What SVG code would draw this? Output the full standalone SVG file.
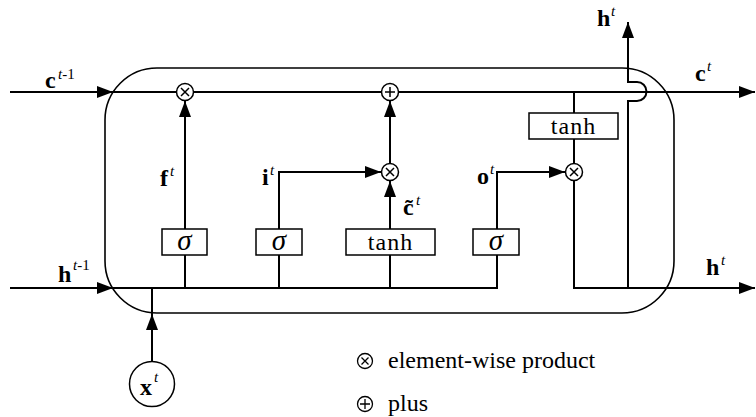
<svg xmlns="http://www.w3.org/2000/svg" width="756" height="417" viewBox="0 0 756 417">
<style>
.ln{fill:none;stroke:#000;stroke-width:2}
.box{fill:#fff;stroke:#000;stroke-width:1.5}
.cell{fill:none;stroke:#000;stroke-width:1.6}
.op{fill:#fff;stroke:#000;stroke-width:1.5}
.opm{fill:none;stroke:#000;stroke-width:1.5}
.lgs{fill:none;stroke:#000;stroke-width:1.3}
.v{font-family:"Liberation Serif","Times New Roman",serif;font-weight:bold;font-size:24px;fill:#000}
.s{font-family:"Liberation Serif","Times New Roman",serif;font-size:15px;fill:#000}
.it{font-style:italic}
.fn{font-family:"Liberation Serif","Times New Roman",serif;font-size:24px;fill:#000;text-anchor:middle}
.sg{font-family:"Liberation Serif","Times New Roman",serif;font-size:29px;font-style:italic;fill:#000;text-anchor:middle}
.lg{font-family:"Liberation Serif","Times New Roman",serif;font-size:24px;fill:#000}
</style>
<defs>
<marker id="arr" markerUnits="userSpaceOnUse" markerWidth="17" markerHeight="12" refX="16" refY="6" orient="auto">
<path d="M0,0 L16,6 L0,12 z" fill="#000"/>
</marker>
</defs>
<rect width="756" height="417" fill="#fff"/>

<g id="cell">
<rect class="cell" x="105" y="68" width="569" height="245" rx="52" ry="52"/>
</g>

<g id="connectors">
<path class="ln" d="M10,92 H113" marker-end="url(#arr)"/>
<path class="ln" d="M113,92 H755" marker-end="url(#arr)"/>
<path class="ln" d="M10,288 H113" marker-end="url(#arr)"/>
<path class="ln" d="M113,288 H497 V255"/>
<path class="ln" d="M185,288 V255"/>
<path class="ln" d="M279,288 V255"/>
<path class="ln" d="M390,288 V255"/>
<path class="ln" d="M152,361.5 V314" marker-end="url(#arr)"/>
<path class="ln" d="M152,314 V288"/>
<path class="ln" d="M185,229 V101" marker-end="url(#arr)"/>
<path class="ln" d="M279,229 V172 H381" marker-end="url(#arr)"/>
<path class="ln" d="M390,229 V181" marker-end="url(#arr)"/>
<path class="ln" d="M390,163 V101" marker-end="url(#arr)"/>
<path class="ln" d="M497,229 V172 H565" marker-end="url(#arr)"/>
<path class="ln" d="M574,92 V113"/>
<path class="ln" d="M574,139 V163.5"/>
<path class="ln" d="M574,180.5 V288 H755" marker-end="url(#arr)"/>
<path class="ln" d="M628,288 V101 H637 A9.5,9.5 0 0 0 637,82 H628 V22" marker-end="url(#arr)"/>
</g>

<g id="sigma_f"><rect class="box" x="162" y="229" width="45" height="26"/><text class="sg" x="184.5" y="250">σ</text></g>
<g id="sigma_i"><rect class="box" x="256" y="229" width="46" height="26"/><text class="sg" x="279" y="250">σ</text></g>
<g id="tanh_c"><rect class="box" x="346" y="229" width="89" height="26"/><text class="fn" x="390.5" y="250" letter-spacing="1">tanh</text></g>
<g id="sigma_o"><rect class="box" x="473" y="229" width="46" height="26"/><text class="sg" x="496" y="250">σ</text></g>
<g id="tanh_h"><rect class="box" x="529" y="113" width="89" height="26"/><text class="fn" x="573.5" y="134" letter-spacing="1">tanh</text></g>

<g id="mult_f"><circle class="op" cx="185" cy="92" r="8.5"/><path class="opm" d="M181,88 L189,96 M189,88 L181,96"/></g>
<g id="plus_c"><circle class="op" cx="390" cy="92" r="8.5"/><path class="opm" d="M385,92 H395 M390,87 V97"/></g>
<g id="mult_i"><circle class="op" cx="390" cy="172" r="8.5"/><path class="opm" d="M386,168 L394,176 M394,168 L386,176"/></g>
<g id="mult_o"><circle class="op" cx="574" cy="172" r="8.5"/><path class="opm" d="M570,168 L578,176 M578,168 L570,176"/></g>

<g id="x_input"><circle class="op" cx="152" cy="384" r="22.5"/><text class="v" x="140" y="395">x</text><text class="s it" x="154" y="382">t</text></g>

<g id="labels">
<text class="v" x="45" y="88">c</text><text class="s" x="58" y="79"><tspan class="it">t</tspan>-1</text>
<text class="v" x="58" y="282">h</text><text class="s" x="73" y="270"><tspan class="it">t</tspan>-1</text>
<text class="v" x="597" y="26">h</text><text class="s it" x="611" y="16">t</text>
<text class="v" x="695" y="81">c</text><text class="s it" x="707" y="71">t</text>
<text class="v" x="706" y="275">h</text><text class="s it" x="721" y="265">t</text>
<text class="v" x="160" y="186">f</text><text class="s it" x="170" y="176">t</text>
<text class="v" x="262" y="185">i</text><text class="s it" x="270" y="175">t</text>
<text class="v" x="477" y="184">o</text><text class="s it" x="490" y="174">t</text>
<text class="v" x="403" y="215">c̃</text><text class="s it" x="416" y="205">t</text>
</g>

<g id="legend">
<circle class="lgs" cx="365" cy="361" r="7.5"/><path class="lgs" d="M361.5,357.5 L368.5,364.5 M368.5,357.5 L361.5,364.5"/>
<text class="lg" x="388" y="368">element-wise product</text>
<circle class="lgs" cx="365" cy="404" r="7.5"/><path class="lgs" d="M360,404 H370 M365,399 V409"/>
<text class="lg" x="388" y="411">plus</text>
</g>
</svg>
